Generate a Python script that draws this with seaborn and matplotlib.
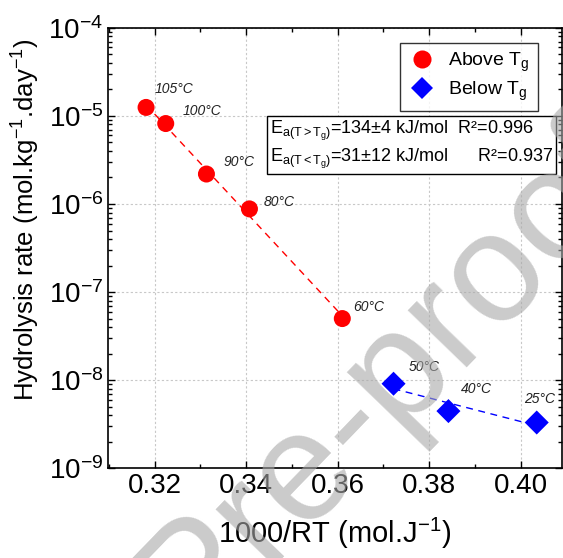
import numpy as np
import pandas as pd
import seaborn as sns
import matplotlib
matplotlib.use("Agg")
from matplotlib import pyplot as plt
from matplotlib import ticker

# Data
inv_rt = [0.3181, 0.3224, 0.3313, 0.3407, 0.3610, 0.3722, 0.3842, 0.4035]
rate = [1.25e-5, 8.2e-6, 2.19e-6, 8.8e-7, 5.0e-8, 9.1e-9, 4.45e-9, 3.3e-9]
temps = ["105°C", "100°C", "90°C", "80°C", "60°C", "50°C", "40°C", "25°C"]
phase = ["Above T$_\\mathrm{g}$"] * 5 + ["Below T$_\\mathrm{g}$"] * 3
phase_names = ["Above T$_\\mathrm{g}$", "Below T$_\\mathrm{g}$"]
phase_colors = ["#ff0000", "#0000ff"]
fit_text = ("E$_\\mathrm{a(T>T_g)}$=134$\\pm$4 kJ/mol  R²=0.996\n"
            "E$_\\mathrm{a(T<T_g)}$=31±12 kJ/mol      R²=0.937")

# offsets (points) for temperature labels
label_off = [(6, 13), (12, 9), (12, 9), (10, 5), (8, 8), (11, 12), (9, 16), (-9, 17)]

df = pd.DataFrame({"x": inv_rt, "y": rate, "T": temps, "phase": phase})

sns.set_style("white")
plt.rcParams["font.family"] = ["Liberation Sans", "DejaVu Sans"]
plt.rcParams["mathtext.fontset"] = "custom"
plt.rcParams["mathtext.rm"] = "Liberation Sans"
plt.rcParams["mathtext.it"] = "Liberation Sans:italic"
plt.rcParams["axes.unicode_minus"] = False

fig = plt.figure(figsize=(5.63, 5.58), dpi=100)
ax = fig.add_axes([0.192, 0.161, 0.806, 0.789])

# dashed Arrhenius fits
for name, col in zip(phase_names, phase_colors):
    sub = df[df["phase"] == name]
    k, b = np.polyfit(sub["x"], np.log10(sub["y"]), 1)
    xs = np.array([sub["x"].min(), sub["x"].max()])
    ax.plot(xs, 10 ** (k * xs + b), ls=(0, (5, 4)), color=col, lw=1.0, zorder=2)

sns.scatterplot(data=df, x="x", y="y", hue="phase", style="phase",
                palette=dict(zip(phase_names, phase_colors)),
                markers={phase_names[0]: "o", phase_names[1]: "D"},
                s=150, edgecolor="none", ax=ax, zorder=3, legend=False)

for xv, yv, t, off in zip(inv_rt, rate, temps, label_off):
    ax.annotate(t, (xv, yv), xytext=off, textcoords="offset points",
                fontsize=10, style="italic", color="#222222", ha="left", va="center")

ax.set_yscale("log")
ax.set_ylim(1e-9, 1e-4)
ax.set_xlim(0.3098, 0.4090)
ax.xaxis.set_major_locator(ticker.MultipleLocator(0.02))
ax.xaxis.set_minor_locator(ticker.MultipleLocator(0.01))
ax.xaxis.set_major_formatter(ticker.FormatStrFormatter("%.2f"))
ax.yaxis.set_major_locator(ticker.LogLocator(base=10, numticks=10))
ax.yaxis.set_minor_locator(ticker.LogLocator(base=10, subs=np.arange(2, 10), numticks=20))
ax.yaxis.set_minor_formatter(ticker.NullFormatter())

ax.tick_params(which="both", direction="in", bottom=True, left=True, top=True, right=True,
               labelsize=20, width=1, colors="black")
ax.tick_params(which="major", length=5)
ax.tick_params(which="minor", length=3)
for sp in ax.spines.values():
    sp.set_linewidth(1.2)
    sp.set_color("black")

ax.grid(True, which="major", ls=(0, (2, 2)), color="#c8c8c8", lw=0.8)
ax.set_axisbelow(True)

ax.set_xlabel("1000/RT (mol.J$^{-1}$)", fontsize=21, labelpad=12, color="black")
ax.set_ylabel("Hydrolysis rate (mol.kg$^{-1}$.day$^{-1}$)", fontsize=18.5, color="black")
ax.yaxis.set_label_coords(-0.145, 0.565)

# legend
handles = [plt.Line2D([], [], ls="none", marker=m, color=c, markersize=ms, markeredgewidth=0)
           for m, c, ms in zip(["o", "D"], phase_colors, [13, 11])]
leg = ax.legend(handles, phase_names, loc="upper right", bbox_to_anchor=(0.947, 0.966),
                borderaxespad=0, fontsize=14, frameon=True, fancybox=False,
                edgecolor="black", handletextpad=0.6, borderpad=0.4, labelspacing=0.3,
                handlelength=1.5)
leg.get_frame().set_linewidth(1.0)
for t in leg.get_texts():
    t.set_color("black")

ax.text(0.357, 0.793, fit_text, transform=ax.transAxes, fontsize=13, va="top", ha="left",
        linespacing=1.25, color="black",
        bbox=dict(boxstyle="square,pad=0.15", fc="white", ec="black", lw=1.0), zorder=5)

# journal watermark
fig.text(0.689, 0.323, "Pre-proof", fontsize=112, rotation=46,
         color="#a8a8a8", alpha=0.6, ha="center", va="center", zorder=10)

fig.savefig("out.png", dpi=100)
